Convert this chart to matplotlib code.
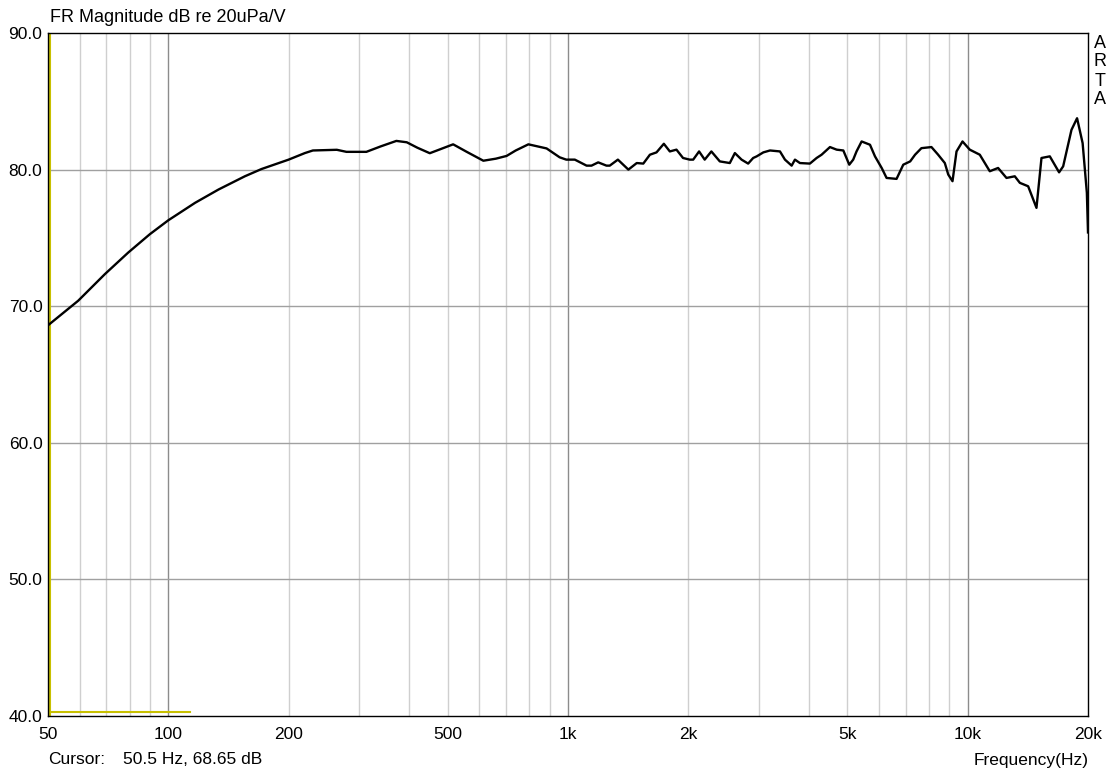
import numpy as np
import matplotlib
matplotlib.use("Agg")
import matplotlib.pyplot as plt
from matplotlib.ticker import FixedLocator, NullFormatter

plt.rcParams["font.family"] = ["Liberation Sans", "DejaVu Sans"]

# frequency response (Hz, dB)
freq = [50, 59.5, 69.4, 79.4, 89.9, 100, 116.7, 133.5, 155.4, 171, 200,
        219.6, 230, 264, 279, 313, 340, 372, 395, 420, 451, 480, 516, 558,
        614, 660, 702, 740, 796, 884, 953, 990, 1040, 1113, 1145, 1190,
        1248, 1272, 1333, 1416, 1486, 1543, 1603, 1665, 1737, 1798, 1868,
        1940, 2016, 2057, 2128, 2198, 2284, 2398, 2540, 2615, 2718, 2823,
        2906, 2966, 3081, 3202, 3391, 3490, 3627, 3697, 3804, 4029, 4188,
        4310, 4523, 4701, 4885, 5055, 5171, 5271, 5428, 5696, 5862, 6093,
        6267, 6638, 6900, 7180, 7385, 7661, 8116, 8429, 8766, 8940, 9163,
        9377, 9707, 10121, 10722, 11358, 11915, 12505, 13117, 13506, 14167,
        14863, 15298, 16050, 16932, 17334, 18184, 18779, 19390, 19870,
        20000]
db = [68.6, 70.4, 72.35, 73.93, 75.27, 76.29, 77.57, 78.54, 79.51, 80.04,
      80.73, 81.21, 81.4, 81.45, 81.3, 81.3, 81.7, 82.1, 82.0, 81.6, 81.2,
      81.5, 81.85, 81.3, 80.65, 80.8, 81.0, 81.4, 81.85, 81.55, 80.9,
      80.73, 80.73, 80.29, 80.29, 80.53, 80.29, 80.29, 80.73, 80.0, 80.48,
      80.44, 81.09, 81.26, 81.89, 81.33, 81.46, 80.85, 80.73, 80.73, 81.33,
      80.73, 81.33, 80.6, 80.48, 81.21, 80.73, 80.44, 80.85, 80.97, 81.26,
      81.4, 81.33, 80.73, 80.29, 80.73, 80.48, 80.44, 80.85, 81.09, 81.65,
      81.46, 81.4, 80.36, 80.73, 81.33, 82.06, 81.82, 80.97, 80.12, 79.39,
      79.32, 80.36, 80.6, 81.09, 81.57, 81.65, 81.1, 80.48, 79.64, 79.15,
      81.33, 82.06, 81.46, 81.09, 79.88, 80.12, 79.39, 79.51, 79.03, 78.78,
      77.2, 80.85, 80.97, 79.8, 80.24, 82.91, 83.76, 81.94, 78.3, 75.4]

x_ticks = [50, 100, 200, 500, 1000, 2000, 5000, 10000, 20000]
x_labels = ["50", "100", "200", "500", "1k", "2k", "5k", "10k", "20k"]
y_ticks = [40, 50, 60, 70, 80, 90]

cursor_f, cursor_db = 50.5, 68.65

fig = plt.figure(figsize=(11.12, 7.73), dpi=100)
ax = fig.add_axes([48 / 1112, 1 - 716 / 773, 1040 / 1112, 683 / 773])

ax.set_xscale("log")
ax.set_xlim(50, 20000)
ax.set_ylim(40, 90)

# grid: light minor verticals, darker decades and dB lines
minor = [60, 70, 80, 90] + [m * d for d in (100, 1000) for m in range(2, 10)] \
    + [m * 10000 for m in range(2, 2)]
minor = [f for f in minor if f not in (1000, 10000)]
for f in minor:
    ax.axvline(f, color="#cfcfcf", lw=1.0, zorder=1)
for f in (100, 1000, 10000):
    ax.axvline(f, color="#8c8c8c", lw=1.0, zorder=1)
for y in y_ticks[1:-1]:
    ax.axhline(y, color="#a0a0a0", lw=1.0, zorder=1)

# cursor marker
ax.plot([cursor_f, cursor_f], [40, 90], color="#c8c000", lw=1.5, zorder=2)
ax.plot([50, 113], [40.3, 40.3], color="#c8c000", lw=1.5, zorder=2)

ax.plot(freq, db, color="black", lw=1.7, zorder=3)

ax.xaxis.set_major_locator(FixedLocator(x_ticks))
ax.xaxis.set_minor_locator(FixedLocator([]))
ax.xaxis.set_minor_formatter(NullFormatter())
ax.set_xticklabels(x_labels)
ax.set_yticks(y_ticks)
ax.set_yticklabels([f"{v:.1f}" for v in y_ticks])
ax.tick_params(length=0, labelsize=12.5, pad=4)
ax.tick_params(axis="x", pad=8)
for s in ax.spines.values():
    s.set_color("black")
    s.set_linewidth(1.0)

fig.text(50 / 1112, 1 - 17 / 773, "FR Magnitude dB re 20uPa/V", fontsize=13,
         va="center", ha="left")
fig.text(48 / 1112, 1 - 760 / 773, "Cursor:", fontsize=12.5, va="center")
fig.text(123 / 1112, 1 - 760 / 773, f"{cursor_f} Hz, {cursor_db:.2f} dB",
         fontsize=12.5, va="center")
fig.text(1089 / 1112, 1 - 760 / 773, "Frequency(Hz)", fontsize=12.5,
         va="center", ha="right")
for i, ch in enumerate("ARTA"):
    fig.text(1100 / 1112, 1 - (43 + i * 19) / 773, ch, fontsize=13,
             va="center", ha="center")

fig.savefig("out.png", dpi=100)
